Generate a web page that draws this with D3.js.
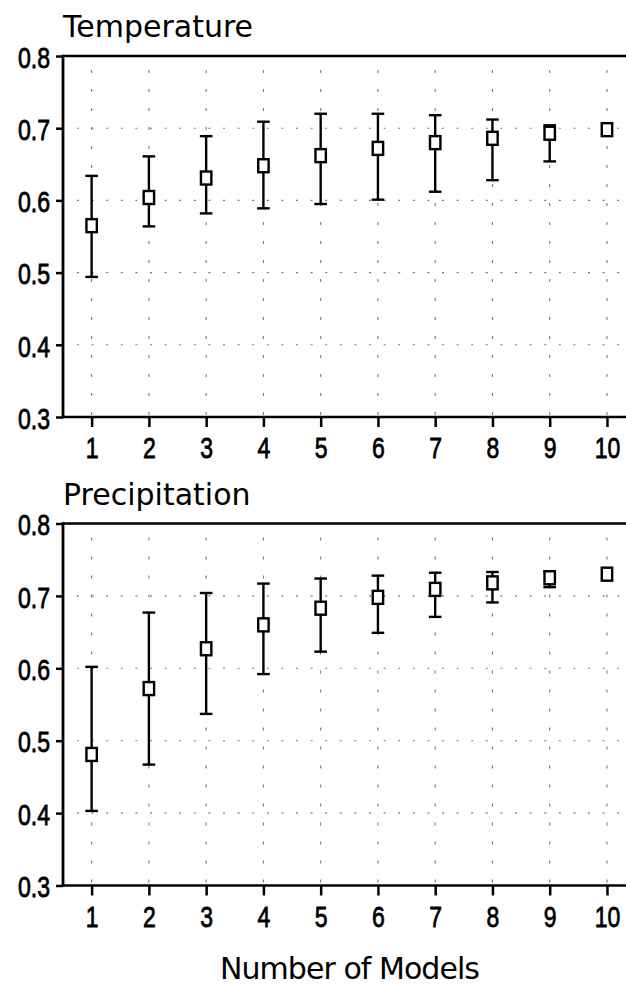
<!DOCTYPE html>
<html>
<head>
<meta charset="utf-8">
<script src="https://cdn.jsdelivr.net/npm/d3@7"></script>
<style>
  html, body { margin: 0; padding: 0; background: #fff; }
  svg { display: block; }
  .tick-label { font-family: "Liberation Sans", Arial, sans-serif; font-size: 29.5px; fill: #000; stroke: #000; stroke-width: 0.8px; }
  .title { font-family: "DejaVu Sans", sans-serif; font-size: 30px; fill: #000; }
  .grid line { stroke: #777; stroke-width: 1.1; }
</style>
</head>
<body>
<svg id="chart" width="626" height="986"></svg>
<script>
// x categories: number of models
const models = [1, 2, 3, 4, 5, 6, 7, 8, 9, 10];
const yTicks = [0.3, 0.4, 0.5, 0.6, 0.7, 0.8];
const panelTitles = ["Temperature", "Precipitation"];
const xTitle = "Number of Models";

// Temperature: mean and error bar ends
const tempMean = [0.565, 0.604, 0.631, 0.648, 0.662, 0.672, 0.680, 0.686, 0.693, 0.698];
const tempLow  = [0.494, 0.564, 0.582, 0.589, 0.595, 0.601, 0.612, 0.628, 0.654, 0.698];
const tempHigh = [0.634, 0.661, 0.689, 0.709, 0.720, 0.720, 0.718, 0.712, 0.704, 0.698];

// Precipitation: mean and error bar ends
const precMean = [0.481, 0.572, 0.627, 0.660, 0.683, 0.698, 0.709, 0.718, 0.725, 0.730];
const precLow  = [0.403, 0.467, 0.537, 0.592, 0.623, 0.649, 0.671, 0.691, 0.712, 0.730];
const precHigh = [0.602, 0.677, 0.704, 0.717, 0.724, 0.728, 0.732, 0.733, 0.734, 0.730];

const svg = d3.select("#chart");

const x = d3.scaleLinear().domain([0.5, 10.5]).range([63, 635.6]);

// narrow look for the tick numbers
function labelWidth(s) {
    let w = 0;
    for (const c of s) w += (c === ".") ? 6.5 : 12.8;
    return w;
}

function drawPanel(title, mean, lo, hi, top, bottom) {
    const y = d3.scaleLinear().domain([0.3, 0.8]).range([bottom, top]);
    const g = svg.append("g");
    const data = models.map((m, i) => ({m: m, mean: mean[i], lo: lo[i], hi: hi[i]}));

    // dotted grid
    const grid = g.append("g").attr("class", "grid");
    grid.selectAll("line.h").data(yTicks.slice(1, -1)).enter()
        .append("line").attr("class", "h")
        .attr("x1", x(0.5) + 14).attr("x2", 626)
        .attr("y1", d => y(d)).attr("y2", d => y(d))
        .attr("stroke-dasharray", "2,12.6");
    grid.selectAll("line.v").data(models).enter()
        .append("line").attr("class", "v")
        .attr("x1", d => x(d)).attr("x2", d => x(d))
        .attr("y1", top + 14).attr("y2", bottom)
        .attr("stroke-dasharray", "3,16");

    // axes
    const yAxis = g.append("g").attr("transform", "translate(" + x(0.5) + ",0)")
        .call(d3.axisLeft(y).tickValues(yTicks).tickFormat(d3.format(".1f")).tickSize(7).tickPadding(6));
    const xAxis = g.append("g").attr("transform", "translate(0," + bottom + ")")
        .call(d3.axisBottom(x).tickValues(models).tickFormat(d3.format("d")).tickSize(10).tickPadding(10));
    [yAxis, xAxis].forEach(a => {
        a.attr("font-size", null).attr("font-family", null);
        a.select(".domain").remove();
        a.selectAll(".tick line").attr("stroke", "#000").attr("stroke-width", 2.5);
        a.selectAll(".tick text").attr("class", "tick-label")
            .attr("lengthAdjust", "spacingAndGlyphs")
            .attr("textLength", function() { return labelWidth(this.textContent); });
    });
    yAxis.selectAll(".tick text").attr("dy", "0.38em");
    xAxis.selectAll(".tick text").attr("dy", "0.72em");

    // frame: left, top, bottom
    g.append("line").attr("x1", x(0.5)).attr("x2", x(0.5)).attr("y1", top - 1.3).attr("y2", bottom + 1.3)
        .attr("stroke", "#000").attr("stroke-width", 2.8);
    [top, bottom].forEach(yy => {
        g.append("line").attr("x1", x(0.5)).attr("x2", 626).attr("y1", yy).attr("y2", yy)
            .attr("stroke", "#000").attr("stroke-width", 2.6);
    });

    // error bars
    const withBar = data.filter(d => d.hi > d.lo);
    const bars = g.append("g").attr("stroke", "#000").attr("stroke-width", 2.4);
    bars.selectAll("line.stem").data(withBar).enter()
        .append("line").attr("class", "stem")
        .attr("x1", d => x(d.m)).attr("x2", d => x(d.m))
        .attr("y1", d => y(d.hi)).attr("y2", d => y(d.lo));
    bars.selectAll("line.capHi").data(withBar).enter()
        .append("line").attr("class", "capHi")
        .attr("x1", d => x(d.m) - 6.3).attr("x2", d => x(d.m) + 6.3)
        .attr("y1", d => y(d.hi)).attr("y2", d => y(d.hi));
    bars.selectAll("line.capLo").data(withBar).enter()
        .append("line").attr("class", "capLo")
        .attr("x1", d => x(d.m) - 6.3).attr("x2", d => x(d.m) + 6.3)
        .attr("y1", d => y(d.lo)).attr("y2", d => y(d.lo));

    // square markers
    g.append("g").selectAll("rect").data(data).enter()
        .append("rect")
        .attr("x", d => x(d.m) - 5.2).attr("y", d => y(d.mean) - 6.5)
        .attr("width", 10.4).attr("height", 13)
        .attr("fill", "#fff").attr("stroke", "#000").attr("stroke-width", 2.4);

    // panel title
    g.append("text").attr("class", "title")
        .attr("x", 63).attr("y", top - 19)
        .text(title);
}

drawPanel(panelTitles[0], tempMean, tempLow, tempHigh, 56, 417);
drawPanel(panelTitles[1], precMean, precLow, precHigh, 523.5, 885.5);

svg.append("text").attr("class", "title")
    .attr("x", 350).attr("y", 979)
    .attr("text-anchor", "middle")
    .attr("font-size", "29px")
    .attr("textLength", 260)
    .text(xTitle);
</script>
</body>
</html>
